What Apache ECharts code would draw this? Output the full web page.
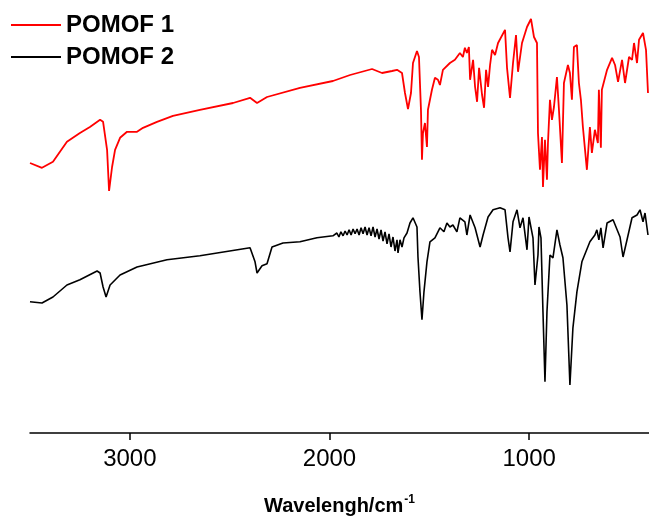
<!DOCTYPE html>
<html>
<head>
<meta charset="utf-8">
<script src="https://cdn.jsdelivr.net/npm/echarts@6/dist/echarts.min.js"></script>
<style>
  html, body { margin: 0; padding: 0; background: #fff; }
  #main { width: 649px; height: 520px; }
</style>
</head>
<body>
<div id="main"></div>
<script>
// POMOF 1 (red) - wavenumber / transmittance (a.u.)
var wn1 = [3500, 3440, 3385, 3315, 3250, 3200, 3149, 3134, 3114, 3104, 3089, 3074, 3049, 3014, 2964, 2934, 2864, 2784, 2649, 2483, 2398, 2363, 2313, 2148, 1983, 1897, 1787, 1737, 1687, 1662, 1637, 1622, 1607, 1592, 1582, 1562, 1552, 1542, 1537, 1532, 1522, 1512, 1507, 1487, 1472, 1457, 1447, 1432, 1397, 1372, 1362, 1347, 1332, 1322, 1312, 1302, 1296, 1281, 1271, 1261, 1251, 1236, 1226, 1216, 1206, 1196, 1186, 1171, 1156, 1121, 1111, 1096, 1081, 1066, 1056, 1036, 1011, 991, 976, 961, 956, 946, 936, 931, 921, 911, 906, 896, 886, 876, 861, 851, 836, 826, 806, 796, 786, 776, 761, 751, 741, 731, 711, 696, 686, 671, 656, 651, 641, 636, 610, 585, 570, 555, 535, 520, 500, 485, 475, 460, 450, 430, 415, 405];
var tr1 = [67.5, 66.3, 67.8, 72.8, 75.0, 76.5, 78.3, 77.8, 70.8, 60.5, 66.5, 70.8, 73.8, 75.3, 75.3, 76.3, 77.8, 79.3, 80.8, 82.5, 83.8, 82.5, 84.0, 86.3, 88.0, 89.5, 91.0, 90.0, 90.5, 90.8, 90.0, 85.0, 81.0, 85.0, 92.5, 95.5, 94.0, 80.8, 68.3, 75.0, 77.5, 71.5, 80.8, 85.8, 88.8, 88.3, 87.0, 90.8, 92.5, 93.3, 92.8, 95.0, 94.0, 96.3, 95.0, 96.5, 88.3, 93.3, 86.5, 82.8, 91.3, 84.5, 81.3, 90.8, 86.5, 92.0, 95.8, 94.5, 97.5, 100.8, 91.3, 83.8, 92.5, 99.5, 90.3, 97.5, 101.5, 103.5, 99.0, 97.5, 75.0, 65.8, 74.0, 61.5, 73.3, 63.3, 72.5, 83.3, 78.3, 81.5, 89.0, 80.8, 67.5, 87.5, 92.0, 90.0, 83.3, 96.5, 97.0, 87.5, 83.3, 76.5, 65.8, 76.5, 70.0, 75.8, 72.5, 85.8, 71.3, 85.8, 90.8, 93.8, 92.0, 87.8, 93.3, 87.5, 94.0, 93.3, 97.5, 92.5, 98.3, 100.0, 95.8, 85.0];

// POMOF 2 (black)
var wn2 = [3500, 3440, 3385, 3315, 3250, 3164, 3149, 3134, 3119, 3099, 3049, 2964, 2814, 2649, 2398, 2373, 2363, 2338, 2313, 2288, 2233, 2148, 2063, 1983,
    1973, 1963, 1953, 1943, 1932, 1922, 1912, 1902, 1892, 1882, 1872, 1862, 1852, 1842, 1832, 1822, 1812, 1802, 1792, 1782, 1772, 1762, 1752, 1742, 1732, 1722, 1712, 1702, 1692, 1682, 1672, 1662, 1657, 1647, 1637, 1627, 1612, 1597, 1582, 1562,
    1557, 1547, 1537, 1527, 1512, 1497, 1472, 1447, 1427, 1412, 1397, 1382, 1362, 1347, 1322, 1312, 1296, 1271, 1246, 1231, 1206, 1181, 1146, 1121, 1106, 1096, 1081, 1061, 1046, 1031, 1011, 1001, 981, 971, 956, 951, 941, 931, 921, 911, 896, 881, 861, 846, 831, 811, 796, 781, 761, 736, 696, 671, 661, 651, 641, 630, 610, 580, 545, 530, 510, 485, 460, 445, 430, 420, 405];
var tr2 = [32.8, 32.5, 34.0, 37.0, 38.3, 40.5, 40.0, 36.5, 34.0, 37.0, 39.5, 41.5, 43.3, 44.3, 46.3, 42.8, 40.0, 41.8, 42.3, 46.5, 47.5, 47.8, 48.8, 49.3,
    49.3, 50.0, 49.0, 50.3, 49.3, 50.5, 49.5, 50.8, 49.5, 51.0, 49.8, 51.0, 49.5, 51.3, 49.8, 51.5, 49.5, 51.3, 49.3, 51.5, 49.0, 51.0, 48.5, 50.8, 48.0, 50.3, 47.3, 49.8, 46.5, 49.0, 45.5, 48.3, 45.0, 48.3, 46.5, 48.8, 50.0, 52.5, 53.8, 51.5,
    44.0, 35.3, 28.3, 35.3, 42.8, 47.8, 48.8, 51.3, 50.3, 52.5, 51.5, 52.0, 50.3, 53.8, 52.8, 49.5, 54.5, 51.3, 46.5, 49.5, 54.0, 55.8, 56.3, 55.8, 48.8, 45.3, 52.8, 55.8, 51.3, 53.8, 45.8, 54.0, 48.8, 37.0, 44.5, 51.5, 48.8, 30.3, 12.8, 30.3, 44.5, 43.8, 50.8, 47.0, 43.8, 32.0, 12.0, 26.3, 35.3, 42.8, 47.8, 49.5, 50.8, 48.3, 51.3, 46.3, 52.5, 53.3, 49.0, 44.0, 48.3, 53.8, 54.5, 55.8, 52.8, 55.0, 49.5];

var xTicks = [1000, 2000, 3000];

function pairs(xs, ys) {
    var out = [];
    for (var i = 0; i < xs.length; i++) {
        out.push([xs[i], ys[i]]);
    }
    return out;
}

var chart = echarts.init(document.getElementById('main'));
var option = {
    backgroundColor: '#fff',
    animation: false,
    grid: { left: 30, right: 0, top: 0, bottom: 87, outerBoundsMode: 'none', containLabel: false },
    legend: {
        orient: 'vertical',
        left: 11,
        top: 13,
        padding: 0,
        itemWidth: 50,
        itemHeight: 2,
        itemGap: 8,
        icon: 'rect',
        textStyle: { fontFamily: 'Liberation Sans', fontWeight: 'bold', fontSize: 24, color: '#000' },
        data: ['POMOF 1', 'POMOF 2']
    },
    xAxis: {
        type: 'value',
        inverse: true,
        min: 400,
        max: 3500,
        splitLine: { show: false },
        axisLine: { lineStyle: { color: '#000', width: 1.5 } },
        axisTick: { customValues: xTicks, length: 7, lineStyle: { color: '#000', width: 1.5 } },
        axisLabel: {
            customValues: xTicks,
            margin: 14,
            fontFamily: 'Liberation Sans',
            fontSize: 24,
            color: '#000',
            formatter: function (v) { return String(v); }
        },
        name: '{a|Wavelengh/cm}{b|-1}',
        nameLocation: 'middle',
        nameGap: 61,
        nameTextStyle: {
            rich: {
                a: { fontFamily: 'Liberation Sans', fontWeight: 'bold', fontSize: 20, color: '#000' },
                b: { fontFamily: 'Liberation Sans', fontWeight: 'bold', fontSize: 12, color: '#000', padding: [0, 0, 12, 1] }
            }
        }
    },
    yAxis: {
        type: 'value',
        min: 0,
        max: 108.25,
        show: false
    },
    series: [
        {
            name: 'POMOF 1',
            type: 'line',
            showSymbol: false,
            color: '#ff0000',
            lineStyle: { width: 1.8, color: '#ff0000' },
            data: pairs(wn1, tr1)
        },
        {
            name: 'POMOF 2',
            type: 'line',
            showSymbol: false,
            color: '#000',
            lineStyle: { width: 1.6, color: '#000' },
            data: pairs(wn2, tr2)
        }
    ]
};
chart.setOption(option);
</script>
</body>
</html>
